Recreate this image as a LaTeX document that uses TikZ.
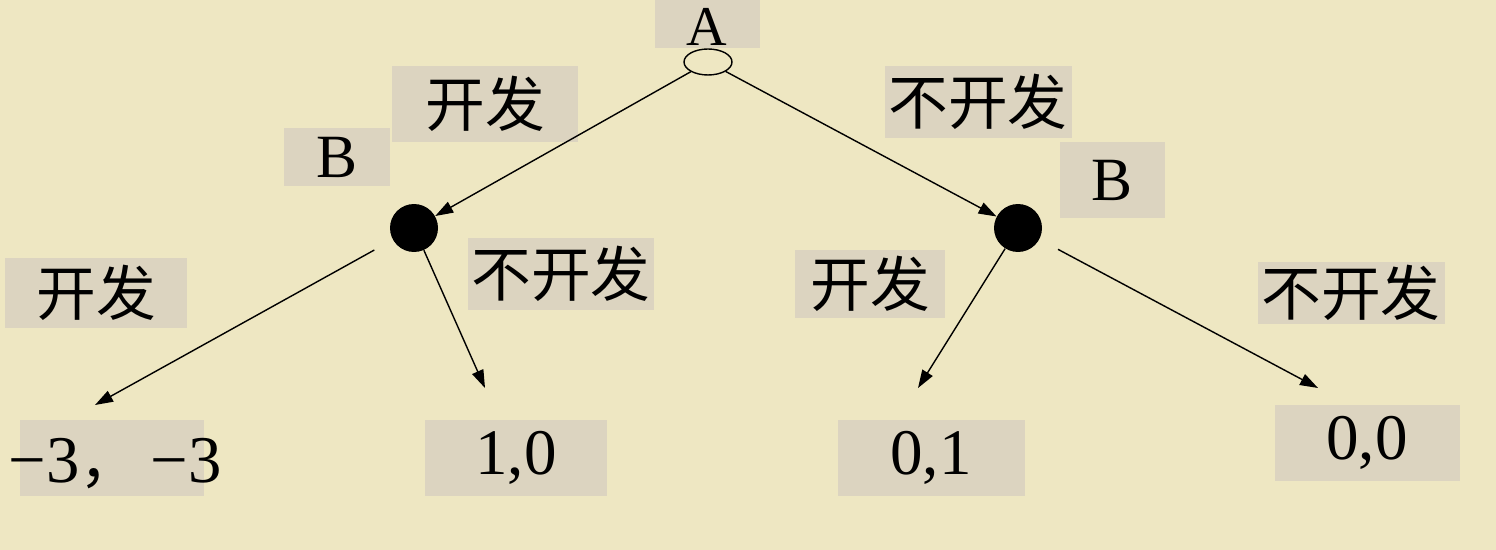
\documentclass[tikz,border=0pt]{standalone}
\usepackage{fontspec}
\setmainfont{Liberation Serif}
\newfontfamily\cjk{Noto Sans CJK SC}
\usetikzlibrary{arrows.meta,shapes.geometric}
\definecolor{paper}{RGB}{238,231,194}
\definecolor{tagfill}{RGB}{220,212,192}

\begin{document}
\begin{tikzpicture}[x=0.02cm,y=-0.02cm,
    tag/.style={fill=tagfill, inner sep=0pt, font=\fontsize{37}{37}\selectfont},
    cn/.style={tag, font=\cjk\fontsize{34}{34}\selectfont},
    move/.style={-{Triangle[length=0.36cm,width=0.24cm]}, line width=0.8pt},
    chance/.style={draw, ellipse, line width=0.8pt, minimum width=0.96cm, minimum height=0.52cm, inner sep=0pt},
    decision/.style={circle, fill=black, minimum size=0.96cm, inner sep=0pt}]
  \useasboundingbox (0,0) rectangle (1496,550);
  \clip (0,0) rectangle (1496,550);
  \fill[paper] (0,0) rectangle (1496,550);

  % players
  \node[tag, minimum width=2.1cm, minimum height=0.96cm] (tagA) at (707,24) {};
  \node[inner sep=0pt, text height=22pt, text depth=0pt, font=\fontsize{32}{32}\selectfont] (tagAt) at (707,26) {A};
  \node[chance] (A) at (708,62) {};
  \node[decision] (B1) at (414,228) {};
  \node[decision] (B2) at (1018,228) {};
  \node[tag, minimum width=2.12cm, minimum height=1.16cm, font=\fontsize{35}{35}\selectfont] (tagB1) at (337,157) {B};
  \node[tag, minimum width=2.1cm, minimum height=1.52cm, font=\fontsize{35}{35}\selectfont] (tagB2) at (1112,180) {B};

  % payoffs
  \node[tag, minimum width=3.7cm, minimum height=1.54cm] (p1) at (112,458) {};
  \node[font=\fontsize{38}{38}\selectfont] (p1t) at (115,464) {−3{\cjk\fontsize{34}{34}\selectfont，}\,−3};
  \node[tag, minimum width=3.66cm, minimum height=1.54cm] (p2) at (516,458) {1,0};
  \node[tag, minimum width=3.74cm, minimum height=1.54cm] (p3) at (931,458) {0,1};
  \node[tag, minimum width=3.7cm, minimum height=1.54cm] (p4) at (1367,443) {0,0};
  \coordinate (l1) at (95,405);
  \coordinate (l2) at (485,388);
  \coordinate (r1) at (918,388);
  \coordinate (r2) at (1318,388);

  % moves
  \node[cn, minimum width=3.72cm, minimum height=1.52cm] (mA1) at (485,104) {开发};
  \node[cn, minimum width=3.74cm, minimum height=1.44cm] (mA2) at (978,102) {不开发};
  \node[cn, minimum width=3.66cm, minimum height=1.4cm] (mB1) at (96,293) {开发};
  \node[cn, minimum width=3.74cm, minimum height=1.44cm] (mB2) at (561,274) {不开发};
  \node[cn, minimum width=3.0cm, minimum height=1.36cm] (mB3) at (870,284) {开发};
  \node[cn, minimum width=3.74cm, minimum height=1.26cm] (mB4) at (1351,293) {不开发};

  \draw[move] (A) -- (B1);
  \draw[move] (A) -- (B2);
  \draw[move, shorten <=0.42cm] (B1) -- (l1);
  \draw[move] (B1) -- (l2);
  \draw[move] (B2) -- (r1);
  \draw[move, shorten <=0.42cm] (B2) -- (r2);
\end{tikzpicture}
\end{document}
